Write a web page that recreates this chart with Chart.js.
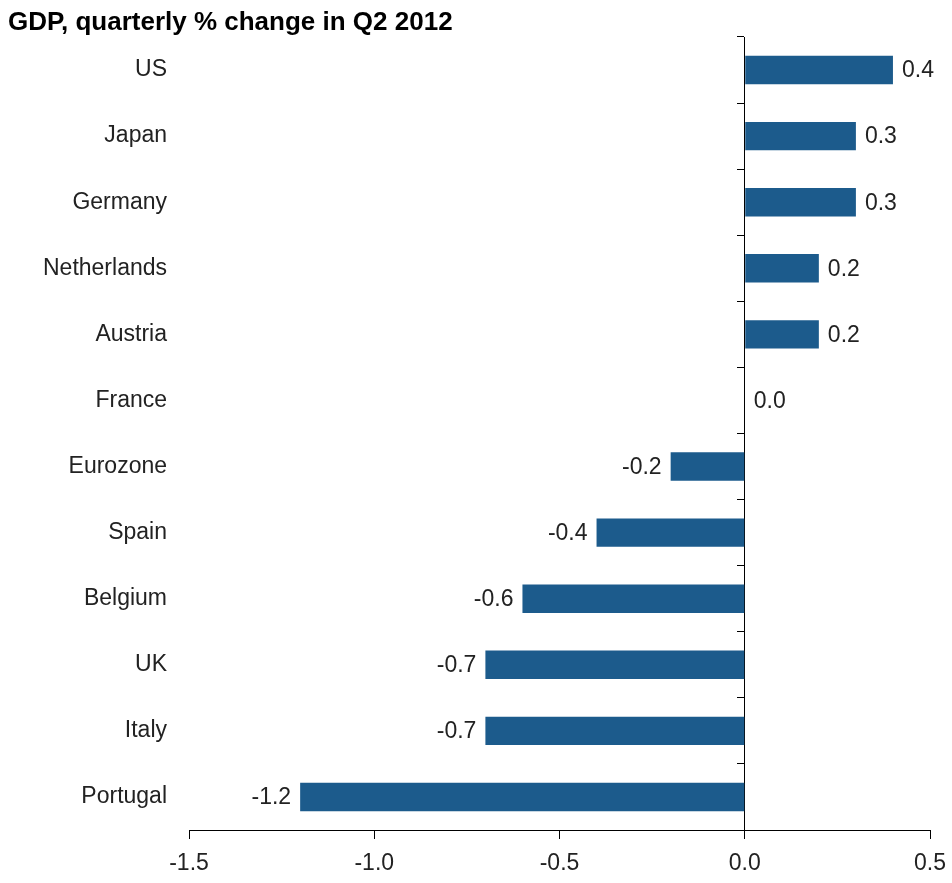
<!DOCTYPE html>
<html>
<head>
<meta charset="utf-8">
<script src="https://cdn.jsdelivr.net/npm/chart.js@4.4.1/dist/chart.umd.min.js"></script>
<style>
  html, body { margin: 0; padding: 0; background: #ffffff; }
  #wrap { width: 952px; height: 883px; position: relative; }
</style>
</head>
<body>
<div id="wrap"><canvas id="c"></canvas></div>
<script>
const titleText = "GDP, quarterly % change in Q2 2012";
const countries = ["US", "Japan", "Germany", "Netherlands", "Austria", "France",
  "Eurozone", "Spain", "Belgium", "UK", "Italy", "Portugal"];
const gdpChange = [0.4, 0.3, 0.3, 0.2, 0.2, 0.0, -0.2, -0.4, -0.6, -0.7, -0.7, -1.2];
const xTickValues = [-1.5, -1.0, -0.5, 0.0, 0.5];

const FONT = '"Liberation Sans", Arial, sans-serif';
const BAR_COLOR = '#1c5b8c';
const TEXT_COLOR = '#222222';

const valueLabels = {
  id: 'valueLabels',
  afterDatasetsDraw(chart) {
    const ctx = chart.ctx;
    const meta = chart.getDatasetMeta(0);
    ctx.save();
    ctx.font = '23px ' + FONT;
    ctx.fillStyle = TEXT_COLOR;
    ctx.textBaseline = 'middle';
    meta.data.forEach((el, i) => {
      const v = chart.data.datasets[0].data[i];
      const txt = v.toFixed(1);
      if (v >= 0) {
        ctx.textAlign = 'left';
        ctx.fillText(txt, el.x + 9, el.y + 1);
      } else {
        ctx.textAlign = 'right';
        ctx.fillText(txt, el.x - 9, el.y + 1);
      }
    });
    ctx.restore();
  }
};

new Chart(document.getElementById('c'), {
  type: 'bar',
  data: {
    labels: countries,
    datasets: [{
      data: gdpChange,
      backgroundColor: BAR_COLOR,
      borderWidth: 0,
      categoryPercentage: 1.0,
      barPercentage: 0.43
    }]
  },
  plugins: [valueLabels],
  options: {
    indexAxis: 'y',
    responsive: true,
    maintainAspectRatio: false,
    animation: false,
    layout: { padding: { left: 8, right: 22, top: 0, bottom: 0 } },
    plugins: {
      legend: { display: false },
      tooltip: { enabled: false },
      title: {
        display: true,
        text: titleText,
        align: 'start',
        color: '#000000',
        font: { family: FONT, size: 26, weight: 'bold', lineHeight: 1.0 },
        padding: { top: 10, bottom: 1 }
      }
    },
    scales: {
      x: {
        type: 'linear',
        min: -1.5,
        max: 0.5,
        afterBuildTicks: (s) => { s.ticks = xTickValues.map(v => ({ value: v })); },
        afterFit: (s) => { s.height = 53; },
        ticks: {
          color: TEXT_COLOR,
          font: { family: FONT, size: 23, lineHeight: 1.6 },
          padding: 6,
          maxRotation: 0,
          callback: (v) => Number(v).toFixed(1)
        },
        grid: {
          display: true,
          drawOnChartArea: false,
          drawTicks: true,
          tickLength: 9,
          color: '#000000',
          lineWidth: 1
        },
        border: { display: true, color: '#000000', width: 1 }
      },
      y: {
        type: 'category',
        position: 'left',
        afterFit: (s) => { s.width = 181; },
        ticks: {
          color: TEXT_COLOR,
          font: { family: FONT, size: 23 },
          padding: 22
        },
        grid: { display: false, drawTicks: false },
        border: { display: false }
      },
      y2: {
        type: 'category',
        axis: 'y',
        position: { x: 0 },
        offset: true,
        ticks: { display: false },
        grid: {
          display: true,
          offset: true,
          drawOnChartArea: false,
          drawTicks: true,
          tickLength: 7,
          color: '#000000',
          lineWidth: 1
        },
        border: { display: true, color: '#000000', width: 1 }
      }
    }
  }
});
</script>
</body>
</html>
